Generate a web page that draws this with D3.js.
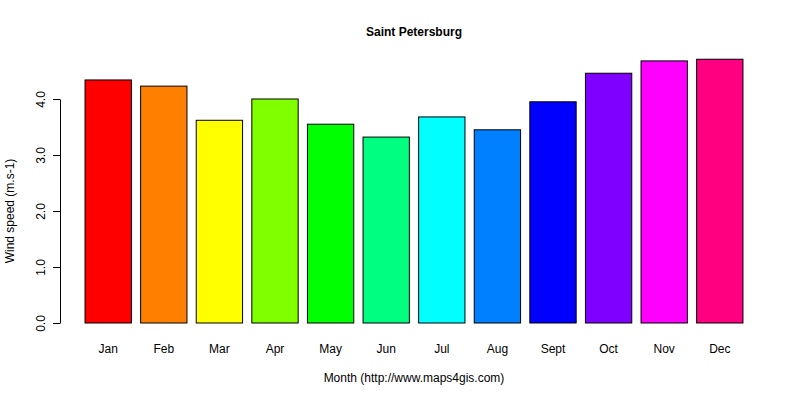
<!DOCTYPE html>
<html><head><script src="https://cdn.jsdelivr.net/npm/d3@7"></script>
<style>body{margin:0;background:#fff}text{font-family:"Liberation Sans",Arial,sans-serif;font-size:12px}</style>
</head><body><svg id="c" width="800" height="400"></svg>
<script>
const months=["Jan","Feb","Mar","Apr","May","Jun","Jul","Aug","Sept","Oct","Nov","Dec"];
const values=[4.34,4.23,3.62,4.0,3.55,3.32,3.68,3.45,3.95,4.46,4.68,4.71];
const colors=["#FF0000","#FF8000","#FFFF00","#80FF00","#00FF00","#00FF80","#00FFFF","#0080FF","#0000FF","#8000FF","#FF00FF","#FF0080"];
const yTicks=[0,1,2,3,4];
const svg=d3.select("#c");
const x=d3.scaleBand().domain(months).range([80.4,747.6]).paddingInner(1/6).paddingOuter(1/12);
const y=d3.scaleLinear().domain([0,4]).range([323,99]);
svg.selectAll("rect").data(values).join("rect")
 .attr("x",(d,i)=>x(months[i])).attr("width",x.bandwidth())
 .attr("y",d=>y(d)).attr("height",d=>y(0)-y(d))
 .attr("fill",(d,i)=>colors[i]).attr("stroke","#000").attr("stroke-width",1);
const ya=svg.append("g").attr("transform","translate(60,0)")
 .call(d3.axisLeft(y).tickValues(yTicks).tickSize(7).tickPadding(4).tickSizeOuter(0));
ya.select(".domain").attr("stroke","#000");
ya.selectAll("text").attr("transform",function(d){return `rotate(-90,${-14},${y(d)})`;})
 .attr("x",-14).attr("dy","0.35em").attr("text-anchor","middle").attr("font-size",12).attr("fill","#000")
 .attr("y",y(0)-y(0)).each(function(d){d3.select(this).attr("transform",`translate(-14,0) rotate(-90) translate(${14},0)`)});
// simpler manual rotate
ya.selectAll(".tick text").attr("x",0).attr("y",0).attr("dy",0).attr("transform","translate(-15,0) rotate(-90)").attr("dominant-baseline","auto");
svg.selectAll(".mlab").data(months).join("text").attr("class","mlab")
 .attr("x",d=>x(d)+x.bandwidth()/2).attr("y",353).attr("text-anchor","middle").text(d=>d);
svg.append("text").attr("x",414).attr("y",36).attr("text-anchor","middle").attr("font-weight","bold").attr("font-size",13).text("Saint Petersburg");
svg.append("text").attr("x",414).attr("y",382).attr("text-anchor","middle").text("Month (http://www.maps4gis.com)");
svg.append("text").attr("transform","translate(14,211) rotate(-90)").attr("text-anchor","middle").text("Wind speed (m.s-1)");
</script></body></html>
